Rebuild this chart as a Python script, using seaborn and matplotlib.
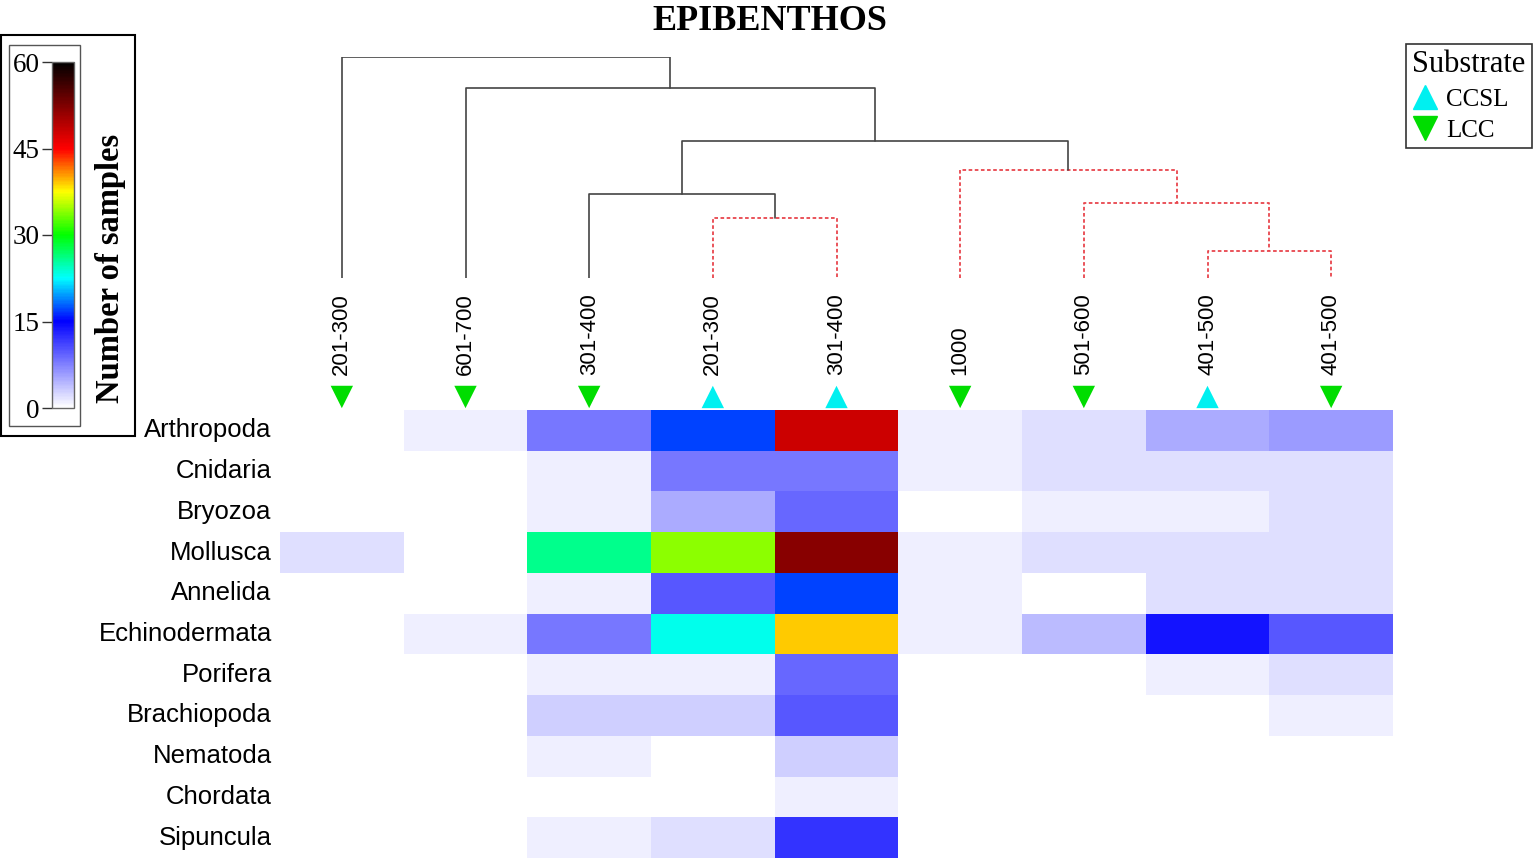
import matplotlib
matplotlib.use("Agg")
import matplotlib.pyplot as plt
import numpy as np
import pandas as pd
import seaborn as sns
from matplotlib.colors import LinearSegmentedColormap
from matplotlib.lines import Line2D
from matplotlib.patches import Rectangle

sns.set_style("white")
plt.rcParams["font.family"] = ["Liberation Sans", "DejaVu Sans"]
plt.rcParams["text.color"] = "black"
plt.rcParams["xtick.color"] = "black"
plt.rcParams["ytick.color"] = "black"
plt.rcParams["axes.labelcolor"] = "black"

# depth classes (m) in dendrogram order, with their substrate
depths = ["201-300", "601-700", "301-400", "201-300", "301-400",
          "1000", "501-600", "401-500", "401-500"]
substrate = ["LCC", "LCC", "LCC", "CCSL", "CCSL", "LCC", "LCC", "CCSL", "LCC"]

taxa = ["Arthropoda", "Cnidaria", "Bryozoa", "Mollusca", "Annelida",
        "Echinodermata", "Porifera", "Brachiopoda", "Nematoda",
        "Chordata", "Sipuncula"]

# number of samples per taxon (rows) and depth class (columns)
counts = [
    [0, 1, 8, 17, 48, 1, 2, 5, 6],
    [0, 0, 1, 8, 8, 1, 2, 2, 2],
    [0, 0, 1, 5, 9, 0, 1, 1, 2],
    [2, 0, 26, 34, 52, 1, 2, 2, 2],
    [0, 0, 1, 10, 17, 1, 0, 2, 2],
    [0, 1, 8, 23, 39, 1, 4, 14, 10],
    [0, 0, 1, 1, 9, 0, 0, 1, 2],
    [0, 0, 3, 3, 10, 0, 0, 0, 1],
    [0, 0, 1, 0, 3, 0, 0, 0, 0],
    [0, 0, 0, 0, 1, 0, 0, 0, 0],
    [0, 0, 1, 2, 12, 0, 0, 0, 0],
]

# cluster merges: (left child, right child, height, highlighted); leaves are 0..8
merges = [
    (3, 4, 27, True),
    (2, 9, 38, False),
    (7, 8, 12, True),
    (6, 11, 34, True),
    (5, 12, 49, True),
    (10, 13, 62, False),
    (1, 14, 86, False),
    (0, 15, 100, False),
]

W, H = 1535, 864
fig = plt.figure(figsize=(W / 100, H / 100), dpi=100)


def fig_box(x0, y0, x1, y1):
    # pixel box (top-left origin) -> figure fraction rect
    return [x0 / W, 1 - y1 / H, (x1 - x0) / W, (y1 - y0) / H]


cmap = LinearSegmentedColormap.from_list("samples", [
    (0.0, "#ffffff"), (15 / 60, "#0000ff"), (22.5 / 60, "#00ffff"),
    (30 / 60, "#00ff00"), (37.5 / 60, "#ffff00"), (45 / 60, "#ff0000"),
    (1.0, "#000000")])

ax = fig.add_axes(fig_box(280, 410, 1393, 858))
cax = fig.add_axes(fig_box(52, 62, 74, 408))

df = pd.DataFrame(counts, index=taxa, columns=range(len(depths)))
sns.heatmap(df, ax=ax, cmap=cmap, vmin=0, vmax=60, cbar_ax=cax,
            cbar_kws={"ticks": [0, 15, 30, 45, 60]})

ax.xaxis.tick_top()
ax.set_xticklabels(depths, rotation=90, fontsize=16)
ax.set_yticklabels(taxa, rotation=0, fontsize=18.5)
ax.tick_params(axis="x", length=0, pad=25)
ax.tick_params(axis="y", length=0, pad=6)
ax.set_xlabel("")
ax.set_ylabel("")

marker_of = {"CCSL": "^", "LCC": "v"}
colour_of = {"CCSL": "#00f0f0", "LCC": "#00dd00"}
for i, s in enumerate(substrate):
    ax.scatter(i + 0.5, -0.32, marker=marker_of[s], s=260, color=colour_of[s],
               edgecolors="none", clip_on=False, zorder=5)

# colorbar styling
cbar = ax.collections[0].colorbar
cax.yaxis.set_ticks_position("left")
cax.tick_params(length=7, width=1, pad=2, colors="#333333")
for t in cax.get_yticklabels():
    t.set_fontfamily("Liberation Serif")
    t.set_fontsize(19.5)
    t.set_color("black")
cbar.outline.set_edgecolor("#666666")
cbar.outline.set_linewidth(1)
fig.text(111 / W, 1 - 268 / H, "Number of samples", rotation=90, ha="center",
         va="center", fontsize=23.5, fontweight="bold", family="Liberation Serif")
fig.patches.append(Rectangle((1 / W, 1 - 436 / H), 134 / W, 401 / H,
                             transform=fig.transFigure, fill=False,
                             edgecolor="black", linewidth=1.5))
fig.patches.append(Rectangle((9 / W, 1 - 426 / H), 71 / W, 381 / H,
                             transform=fig.transFigure, fill=False,
                             edgecolor="#555555", linewidth=1))

# dendrogram
dax = fig.add_axes(fig_box(280, 57, 1393, 278))
pos = {i: i + 0.5 for i in range(len(depths))}
hgt = {i: 0 for i in range(len(depths))}
node = len(depths)
for a, b, h, hl in merges:
    xs = [pos[a], pos[a], pos[b], pos[b]]
    ys = [hgt[a], h, h, hgt[b]]
    if hl:
        dax.plot(xs, ys, color="#e8454d", lw=1.3, ls=(0, (2, 1.4)))
    else:
        dax.plot(xs, ys, color="#444444", lw=1.2)
    pos[node] = (pos[a] + pos[b]) / 2
    hgt[node] = h
    node += 1
dax.set_xlim(0, len(depths))
dax.set_ylim(0, 100)
dax.axis("off")

fig.text(770 / W, 1 - 21 / H, "EPIBENTHOS", ha="center", va="center",
         fontsize=26, fontweight="bold", family="Liberation Serif")

handles = [Line2D([], [], ls="none", marker=marker_of[s], color=colour_of[s],
                  markersize=17, label=s) for s in ["CCSL", "LCC"]]
leg = fig.legend(handles=handles, title="Substrate", loc="upper right",
                 bbox_to_anchor=(1532 / W, 1 - 44 / H), frameon=True,
                 fancybox=False, edgecolor="black", borderpad=0.25,
                 handletextpad=0.35, labelspacing=0.35, handlelength=1.0,
                 borderaxespad=0, alignment="left",
                 prop={"family": "Liberation Serif", "size": 18})
leg.get_title().set_fontfamily("Liberation Serif")
leg.get_title().set_fontsize(22)
leg.get_frame().set_linewidth(1.2)

fig.savefig("out.png", dpi=100)
